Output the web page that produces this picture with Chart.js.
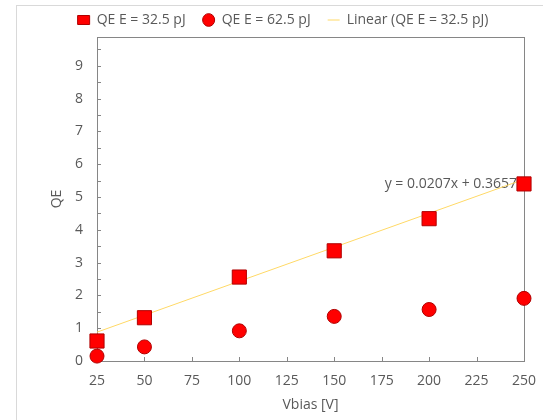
<!DOCTYPE html>
<html>
<head>
<meta charset="utf-8">
<script src="https://cdn.jsdelivr.net/npm/chart.js@4/dist/chart.umd.min.js"></script>
<style>
  html, body { margin: 0; padding: 0; background: #fff; }
  #wrap { position: relative; width: 543px; height: 420px; }
  #frame { position: absolute; left: 16px; top: 5px; right: -2px; bottom: -2px; border-left: 1px solid #d9d9d9; border-top: 1px solid #d9d9d9; }
  canvas { position: absolute; left: 0; top: 0; }
</style>
</head>
<body>
<div id="wrap">
  <div id="frame"></div>
  <canvas id="chart" width="543" height="420"></canvas>
</div>
<script>
var vbias = [25, 50, 100, 150, 200, 250];
var qe325 = [0.61, 1.32, 2.56, 3.36, 4.34, 5.40];
var qe625 = [0.15, 0.43, 0.92, 1.36, 1.57, 1.91];

// trendline end points
var trendX = [25, 250];
var trendY = [0.88, 5.54];
var trendLabel = 'y = 0.0207x + 0.3657';

var xTicks = [25, 50, 75, 100, 125, 150, 175, 200, 225, 250];
var yTicks = [0, 1, 2, 3, 4, 5, 6, 7, 8, 9];
var yMinor = [0.5, 1.5, 2.5, 3.5, 4.5, 5.5, 6.5, 7.5, 8.5, 9.5];

var textColor = '#595959';
var axisColor = '#868686';
var fontFamily = "'Open Sans', 'Liberation Sans', sans-serif";

function pts(xs, ys) {
  var out = [];
  for (var i = 0; i < xs.length; i++) out.push({x: xs[i], y: ys[i]});
  return out;
}

// frame, inward tick marks and trendline equation
var extras = {
  id: 'extras',
  beforeDatasetsDraw: function(chart) {
    var ctx = chart.ctx;
    var a = chart.chartArea;
    var xs = chart.scales.x, ys = chart.scales.y;
    ctx.save();
    ctx.strokeStyle = axisColor;
    ctx.lineWidth = 1;
    ctx.strokeRect(Math.round(a.left) + 0.5, Math.round(a.top) + 0.5,
      Math.round(a.right - a.left), Math.round(a.bottom - a.top));
    ctx.beginPath();
    yTicks.concat(yMinor).forEach(function(v) {
      var py = Math.round(ys.getPixelForValue(v)) + 0.5;
      ctx.moveTo(a.left, py);
      ctx.lineTo(a.left + 4, py);
    });
    xTicks.forEach(function(v) {
      var px = Math.round(xs.getPixelForValue(v)) + 0.5;
      ctx.moveTo(px, a.bottom);
      ctx.lineTo(px, a.bottom - 4);
    });
    ctx.stroke();

    var last = trendX.length - 1;
    ctx.fillStyle = textColor;
    ctx.font = '14px ' + fontFamily;
    ctx.textAlign = 'right';
    ctx.textBaseline = 'middle';
    ctx.fillText(trendLabel, xs.getPixelForValue(trendX[last]) - 7,
      ys.getPixelForValue(qe325[qe325.length - 1]));
    ctx.restore();
  }
};

var ctx = document.getElementById('chart').getContext('2d');
var chart = new Chart(ctx, {
  type: 'scatter',
  data: {
    datasets: [{
      label: 'QE E = 32.5 pJ',
      data: pts(vbias, qe325),
      pointStyle: 'rect',
      pointRadius: 10,
      backgroundColor: '#ff0000',
      borderColor: '#b00000',
      borderWidth: 1,
      clip: false,
      order: 1
    }, {
      label: 'QE E = 62.5 pJ',
      data: pts(vbias, qe625),
      pointStyle: 'circle',
      pointRadius: 7,
      backgroundColor: '#ff0000',
      borderColor: '#b00000',
      borderWidth: 1,
      clip: false,
      order: 1
    }, {
      label: 'Linear (QE E = 32.5 pJ)',
      data: pts(trendX, trendY),
      showLine: true,
      pointRadius: 0,
      pointStyle: 'line',
      borderColor: '#ffd966',
      backgroundColor: '#ffd966',
      borderWidth: 1,
      clip: false,
      order: 2
    }]
  },
  options: {
    responsive: false,
    animation: false,
    layout: { autoPadding: false, padding: { left: 42, right: 19, top: -4, bottom: 0 } },
    plugins: {
      legend: {
        display: true,
        position: 'top',
        labels: {
          usePointStyle: true,
          boxHeight: 9,
          boxWidth: 12,
          pointStyleWidth: 12,
          padding: 17,
          color: textColor,
          font: { family: fontFamily, size: 14 }
        }
      },
      tooltip: { enabled: false }
    },
    scales: {
      x: {
        type: 'linear',
        min: 25,
        max: 250,
        afterBuildTicks: function(s) { s.ticks = xTicks.map(function(v) { return {value: v}; }); },
        afterFit: function(s) { s.height = 59; s.paddingLeft = 0; s.paddingRight = 0; },
        grid: { display: false, drawTicks: false },
        border: { display: false },
        ticks: { color: textColor, padding: 12, maxRotation: 0, font: { family: fontFamily, size: 14 } },
        title: { display: true, text: 'Vbias [V]', color: textColor, padding: { top: 4, bottom: 7 }, font: { family: fontFamily, size: 14 } }
      },
      y: {
        min: 0,
        max: 9.88,
        afterBuildTicks: function(s) { s.ticks = yTicks.map(function(v) { return {value: v}; }); },
        afterFit: function(s) { s.width = 55; s.paddingTop = 0; s.paddingBottom = 0; },
        grid: { display: false, drawTicks: false },
        border: { display: false },
        ticks: { color: textColor, padding: 14, font: { family: fontFamily, size: 14 } },
        title: { display: true, text: 'QE', color: textColor, padding: { top: 7, bottom: 0 }, font: { family: fontFamily, size: 14 } }
      }
    }
  },
  plugins: [extras]
});
</script>
</body>
</html>
